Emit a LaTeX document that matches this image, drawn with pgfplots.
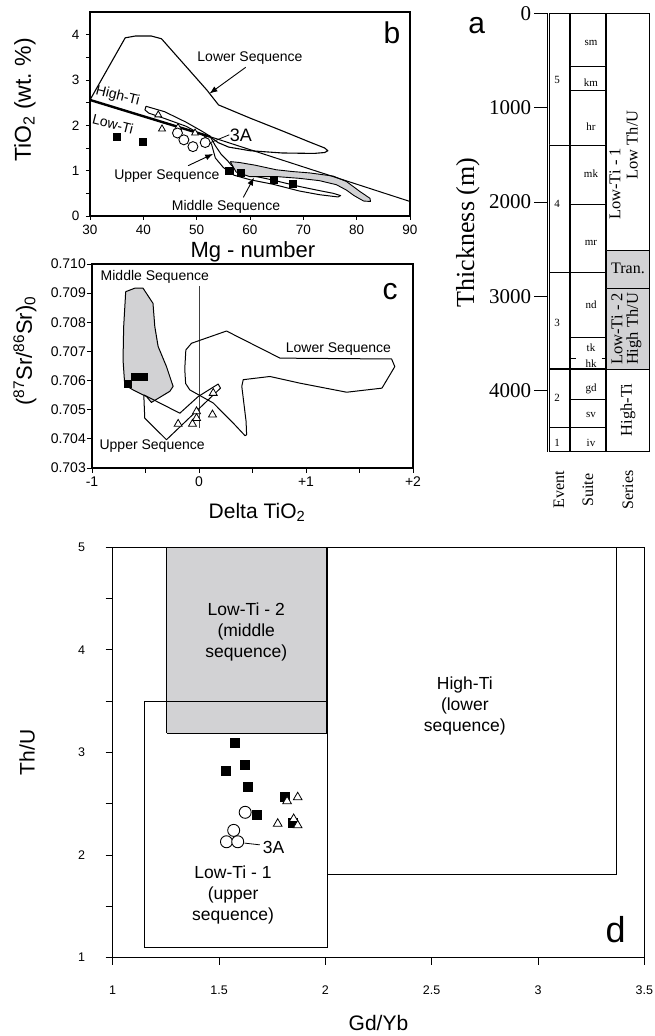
\documentclass[border=0pt]{standalone}
\usepackage{fontspec}
\setmainfont{Liberation Sans}
\newfontfamily\serif{Liberation Serif}
\usepackage{pgfplots}
\pgfplotsset{compat=1.18}
\usetikzlibrary{arrows.meta}
\definecolor{lgray}{RGB}{210,210,212}
\newcommand{\fs}[2]{\fontsize{#1}{#2}\selectfont}
\pgfplotsset{
  common/.style={scale only axis, anchor=south west, clip=false,
    tick align=outside, tick pos=left,
    axis line style={line width=1.1pt},
    tick style={line width=0.9pt, black}},
  sq/.style={only marks, mark=square*, mark options={fill=black,draw=black}},
  tri/.style={only marks, mark=triangle*, mark options={fill=white,draw=black,line width=0.8pt}},
  circ/.style={only marks, mark=*, mark options={fill=white,draw=black,line width=0.9pt}},
  outl/.style={black, line width=1pt, no markers, line join=round},
  arr/.style={black, line width=0.9pt, no markers, -{Latex[length=8pt,width=6pt]}},
}
\newcommand{\bx}[5]{\addplot[#5, draw=black, line width=0.9pt, no markers] coordinates {(#1,#3) (#2,#3) (#2,#4) (#1,#4) (#1,#3)};}
\begin{document}
\begin{tikzpicture}
\useasboundingbox (0pt,0pt) rectangle (655pt,1036pt);

% ---------------- panel b ----------------
\begin{axis}[common, at={(90pt,820pt)}, width=320pt, height=204pt,
  xmin=30, xmax=90, ymin=0, ymax=4.5,
  xtick={30,40,50,60,70,80,90}, xticklabels={30,40,50,60,70,80,90},
  ytick={0,1,2,3,4}, yticklabels={0,1,2,3,4}, minor ytick={0.5,1.5,2.5,3.5},
  major tick length=4pt, minor tick length=4pt,
  tick label style={font=\fs{13.5}{16}},
  yticklabel style={xshift=-3pt}, xticklabel style={yshift=-2pt},
  xlabel={Mg - number}, ylabel={TiO\textsubscript{2} (wt.\ \%)},
  xlabel style={font=\fs{22}{26}, at={(axis description cs:0.509,-0.176)}, anchor=center},
  ylabel style={font=\fs{23}{27}, at={(axis description cs:-0.203,0.569)}, anchor=center},
]
\addplot[outl, line width=1.1pt] coordinates {(30,2.56) (36.6,3.93) (38.5,3.97) (41.5,3.97) (43.4,3.91) (51.9,2.78) (54.1,2.45) (60,2.16) (66,1.88) (71,1.64) (74,1.5) (74.6,1.44) (74,1.40) (72,1.38) (66,1.39) (60,1.44) (56,1.52) (54,1.62) (52.5,1.75) (30,2.56)};
\addplot[outl] coordinates {(40.5,2.42) (44,2.3) (48,2.07) (51,1.87) (52.5,1.76) (53.5,1.55) (54.6,1.36) (55.8,1.22) (56.5,1.12) (58,0.98) (60,0.9) (64,0.8) (69.3,0.65) (73,0.56) (75.6,0.5) (77,0.45) (76.5,0.42) (73,0.47) (69.3,0.55) (64.3,0.70) (60,0.80) (57,0.9) (55,1.07) (53.5,1.28) (52.8,1.58) (51.5,1.76) (48,1.98) (44,2.15) (41,2.27) (40.3,2.34) (40.5,2.42)};
\addplot[fill=lgray, draw=black, line width=0.9pt, line join=round] coordinates {(56.3,1.2) (58,1.18) (61,1.12) (64.9,1.02) (68,0.98) (71.2,0.95) (75.6,0.88) (78.1,0.76) (80.6,0.54) (82.5,0.39) (82.6,0.32) (81.3,0.33) (79.5,0.45) (78.1,0.57) (76.2,0.69) (73,0.78) (69.3,0.83) (64.9,0.87) (59.9,0.87) (57.4,0.97) (56.3,1.2)};
\addplot[black, line width=2.4pt, no markers] coordinates {(30,2.56) (52.5,1.75)};
\addplot[black, line width=1pt, no markers] coordinates {(52.5,1.75) (90,0.32)};
\addplot[sq, mark size=3.6pt] coordinates {(35,1.75) (39.9,1.64) (56.1,1.0) (58.25,0.96) (64.5,0.80) (68,0.71)};
\addplot[tri, mark size=4pt] coordinates {(42.8,2.23) (43.5,1.92) (46.5,1.95) (49.7,1.83)};
\addplot[circ, mark size=5pt] coordinates {(46.4,1.83) (47.6,1.68) (49.3,1.53) (51.6,1.62)};
\node[font=\fs{14}{16}] at (axis cs:60,3.48) {Lower Sequence};
\addplot[arr] coordinates {(59.2,3.28) (52.4,2.7)};
\node[font=\fs{14}{16}, rotate=-14] at (axis cs:35.2,2.64) {High-Ti};
\node[font=\fs{14}{16}, rotate=-14] at (axis cs:34.3,2.03) {Low-Ti};
\node[font=\fs{18}{20}, anchor=west, inner sep=0pt] at (axis cs:56.2,1.79) {3A};
\addplot[black, line width=0.8pt, no markers] coordinates {(56.1,1.79) (52.2,1.6)};
\node[font=\fs{14}{16}] at (axis cs:44.4,0.89) {Upper Sequence};
\addplot[arr] coordinates {(48.4,1.11) (53.1,1.37)};
\node[font=\fs{14}{16}] at (axis cs:55.5,0.21) {Middle Sequence};
\addplot[arr] coordinates {(58.75,0.41) (60.75,0.85)};
\node[font=\fs{30}{32}] at (axis cs:86.6,4.04) {b};
\end{axis}

% ---------------- panel c ----------------
\begin{axis}[common, at={(92pt,568pt)}, width=321pt, height=204pt,
  xmin=-1, xmax=2, ymin=0.703, ymax=0.710,
  xtick={-1,0,1,2}, xticklabels={-1,0,+1,+2}, minor xtick={-0.5,0.5,1.5},
  ytick={0.703,0.704,0.705,0.706,0.707,0.708,0.709,0.710},
  yticklabels={0.703,0.704,0.705,0.706,0.707,0.708,0.709,0.710},
  major tick length=5pt, minor tick length=5pt,
  tick label style={font=\fs{14}{16}},
  yticklabel style={inner xsep=1pt}, xticklabel style={yshift=0pt},
  xlabel={Delta TiO\textsubscript{2}},
  ylabel={(\textsuperscript{87}Sr/\textsuperscript{86}Sr)\textsubscript{0}},
  xlabel style={font=\fs{21}{25}, at={(axis description cs:0.514,-0.216)}, anchor=center},
  ylabel style={font=\fs{22}{26}, at={(axis description cs:-0.209,0.574)}, anchor=center},
]
\addplot[black!75, line width=0.8pt, no markers] coordinates {(0,0.70437) (0,0.70925)};
\addplot[fill=lgray, draw=black, line width=1pt, line join=round] coordinates {(-0.685,0.70905) (-0.60,0.70917) (-0.523,0.70917) (-0.43,0.70865) (-0.413,0.70785) (-0.382,0.70717) (-0.304,0.70648) (-0.242,0.7058) (-0.273,0.70563) (-0.445,0.70525) (-0.49,0.70545) (-0.616,0.70568) (-0.694,0.70585) (-0.71,0.70671) (-0.704,0.70785) (-0.685,0.70905)};
\addplot[outl] coordinates {(-0.516,0.70551) (-0.179,0.70488) (-0.008,0.70545) (0.179,0.70588) (0.201,0.70574) (-0.304,0.70397) (-0.507,0.70471) (-0.516,0.70551)};
\addplot[outl] coordinates {(-0.123,0.70705) (-0.133,0.7064) (-0.125,0.7059) (-0.086,0.70568) (0.133,0.70523) (0.32,0.70454) (0.43,0.70411) (0.445,0.70414) (0.44,0.7046) (0.40,0.7058) (0.413,0.70603) (0.663,0.70614) (0.944,0.70591) (1.38,0.7056) (1.71,0.70574) (1.83,0.70648) (1.80,0.70674) (0.757,0.70677) (0.257,0.7077) (-0.07,0.70728) (-0.123,0.70705)};
\addplot[sq, mark size=3.5pt] coordinates {(-0.663,0.70589) (-0.60,0.70612) (-0.554,0.70614) (-0.516,0.70614)};
\addplot[tri, mark size=4.6pt] coordinates {(-0.195,0.70451) (-0.061,0.70451) (-0.023,0.70494) (-0.023,0.70471) (0.126,0.70483) (0.133,0.70557)};
\node[font=\fs{14}{16}] at (axis cs:-0.413,0.70957) {Middle Sequence};
\node[font=\fs{14}{16}] at (axis cs:-0.438,0.70374) {Upper Sequence};
\node[font=\fs{14}{16}] at (axis cs:1.303,0.70708) {Lower Sequence};
\node[font=\fs{30}{32}] at (axis cs:1.786,0.70905) {c};
\end{axis}

% ---------------- panel a ----------------
\begin{axis}[scale only axis, anchor=south west, clip=false, at={(547.3pt,584.3pt)},
  width=102pt, height=438.4pt, xmin=547.3, xmax=649.3, ymin=0, ymax=4644,
  y dir=reverse, hide x axis, axis y line*=left,
  axis line style={line width=1pt},
  ytick={0,1000,2000,3000,4000}, yticklabels={0,1000,2000,3000,4000},
  tick align=outside, major tick length=13pt, tick style={line width=1pt,black},
  yticklabel style={font=\serif\fs{21}{24}, inner xsep=3pt},
  ylabel={Thickness (m)},
  ylabel style={font=\serif\fs{26}{30}, at={(axis description cs:-0.779,0.5)}, anchor=center},
]
% Event column
\bx{549}{569.3}{0}{1395}{fill=white}
\bx{549}{569.3}{1395}{2748}{fill=white}
\bx{549}{569.3}{2748}{3768}{fill=white}
\bx{549}{569.3}{3768}{4386}{fill=white}
\bx{549}{569.3}{4386}{4644}{fill=white}
% Suite column
\bx{570.3}{605.7}{0}{558}{fill=white}
\bx{570.3}{605.7}{558}{819}{fill=white}
\bx{570.3}{605.7}{819}{1395}{fill=white}
\bx{570.3}{605.7}{1395}{2020}{fill=white}
\bx{570.3}{605.7}{2020}{2748}{fill=white}
\bx{570.3}{605.7}{2748}{3432}{fill=white}
\bx{570.3}{605.7}{3432}{3768}{fill=white}
\bx{570.3}{605.7}{3768}{4089}{fill=white}
\bx{570.3}{605.7}{4089}{4386}{fill=white}
\bx{570.3}{605.7}{4386}{4644}{fill=white}
\addplot[black, line width=0.9pt, no markers] coordinates {(570.3,3655) (576,3655)};
\addplot[black, line width=0.9pt, no markers] coordinates {(601.5,3655) (605.7,3655)};
\addplot[black, line width=1.4pt, no markers] coordinates {(549,3768) (605.7,3768)};
% Series column
\bx{606.5}{649.3}{0}{2515}{fill=white}
\bx{606.5}{649.3}{2515}{2917}{fill=lgray}
\bx{606.5}{649.3}{2917}{3768}{fill=lgray}
\bx{606.5}{649.3}{3768}{4644}{fill=white}
% labels
\node[font=\serif\fs{11}{13}] at (axis cs:557,707) {5};
\node[font=\serif\fs{11}{13}] at (axis cs:557,2020) {4};
\node[font=\serif\fs{11}{13}] at (axis cs:557,3278) {3};
\node[font=\serif\fs{11}{13}] at (axis cs:557,4078) {2};
\node[font=\serif\fs{11}{13}] at (axis cs:557,4555) {1};
\node[font=\serif\fs{11}{13}] at (axis cs:591,311) {sm};
\node[font=\serif\fs{11}{13}] at (axis cs:591,731) {km};
\node[font=\serif\fs{11}{13}] at (axis cs:591,1201) {hr};
\node[font=\serif\fs{11}{13}] at (axis cs:591,1695) {mk};
\node[font=\serif\fs{11}{13}] at (axis cs:591,2436) {mr};
\node[font=\serif\fs{11}{13}] at (axis cs:591,3090) {nd};
\node[font=\serif\fs{11}{13}] at (axis cs:591,3545) {tk};
\node[font=\serif\fs{11}{13}] at (axis cs:591,3712) {hk};
\node[font=\serif\fs{11}{13}] at (axis cs:591,3983) {gd};
\node[font=\serif\fs{11}{13}] at (axis cs:591,4255) {sv};
\node[font=\serif\fs{11}{13}] at (axis cs:591,4555) {iv};
\node[font=\serif\fs{16.5}{19}, rotate=90] at (axis cs:615,1808) {Low-Ti - 1};
\node[font=\serif\fs{16.5}{19}, rotate=90] at (axis cs:632,1395) {Low Th/U};
\node[font=\serif\fs{16}{19}] at (axis cs:628,2700) {Tran.};
\node[font=\serif\fs{16.5}{19}, rotate=90] at (axis cs:617,3344) {Low-Ti - 2};
\node[font=\serif\fs{16.5}{19}, rotate=90] at (axis cs:634,3344) {High Th/U};
\node[font=\serif\fs{16.5}{19}, rotate=90] at (axis cs:628,4202) {High-Ti};
\node[font=\serif\fs{16}{19}, rotate=90] at (axis cs:559,5050) {Event};
\node[font=\serif\fs{16}{19}, rotate=90] at (axis cs:588,5050) {Suite};
\node[font=\serif\fs{16}{19}, rotate=90] at (axis cs:628,5050) {Series};
\node[font=\fs{30}{32}] at (axis cs:476.7,125) {a};
\end{axis}

% ---------------- panel d ----------------
\begin{axis}[common, at={(112.7pt,78.3pt)}, width=531.6pt, height=410.4pt,
  xmin=1, xmax=3.5, ymin=1, ymax=5,
  xtick={1,1.5,2,2.5,3,3.5}, xticklabels={1,1.5,2,2.5,3,3.5},
  ytick={1,2,3,4,5}, yticklabels={1,2,3,4,5}, minor ytick={1.5,2.5,3.5,4.5},
  major tick length=7pt, minor tick length=7pt,
  tick label style={font=\fs{12.5}{15}},
  xticklabel style={yshift=-18pt}, yticklabel style={xshift=-17pt},
  xlabel={Gd/Yb}, ylabel={Th/U},
  xlabel style={font=\fs{21}{25}, at={(axis description cs:0.5,-0.159)}, anchor=center},
  ylabel style={font=\fs{21}{25}, at={(axis description cs:-0.161,0.5)}, anchor=center},
]
\addplot[fill=lgray, draw=black, line width=1pt, no markers] coordinates {(1.255,3.19) (2.007,3.19) (2.007,5) (1.255,5) (1.255,3.19)};
\addplot[black, line width=1.1pt, no markers] coordinates {(1.148,1.10) (2.01,1.10) (2.01,3.50) (1.148,3.50) (1.148,1.10)};
\addplot[black, line width=1.1pt, no markers] coordinates {(2.01,1.814) (3.37,1.814) (3.37,5) (2.01,5) (2.01,1.814)};
\addplot[sq, mark size=4.5pt] coordinates {(1.574,3.095) (1.623,2.883) (1.530,2.818) (1.633,2.671) (1.807,2.573) (1.676,2.391) (1.846,2.319)};
\addplot[tri, mark size=5pt] coordinates {(1.870,2.564) (1.820,2.525) (1.851,2.352) (1.776,2.306) (1.870,2.290)};
\addplot[black, line width=0.8pt, no markers] coordinates {(1.62,2.117) (1.692,2.10)};
\addplot[circ, mark size=6pt] coordinates {(1.623,2.417) (1.569,2.241) (1.535,2.130) (1.588,2.130)};
\node[font=\fs{17.5}{21}, anchor=west, inner sep=0pt] at (axis cs:1.705,2.07) {3A};
\node[font=\fs{17.5}{21}, align=center] at (axis cs:1.628,4.17) {Low-Ti - 2\\(middle\\sequence)};
\node[font=\fs{17.5}{21}, align=center] at (axis cs:2.656,3.45) {High-Ti\\(lower\\sequence)};
\node[font=\fs{17.5}{21}, align=center] at (axis cs:1.566,1.61) {Low-Ti - 1\\(upper\\sequence)};
\node[font=\fs{36}{38}] at (axis cs:3.365,1.27) {d};
\end{axis}
\end{tikzpicture}
\end{document}
